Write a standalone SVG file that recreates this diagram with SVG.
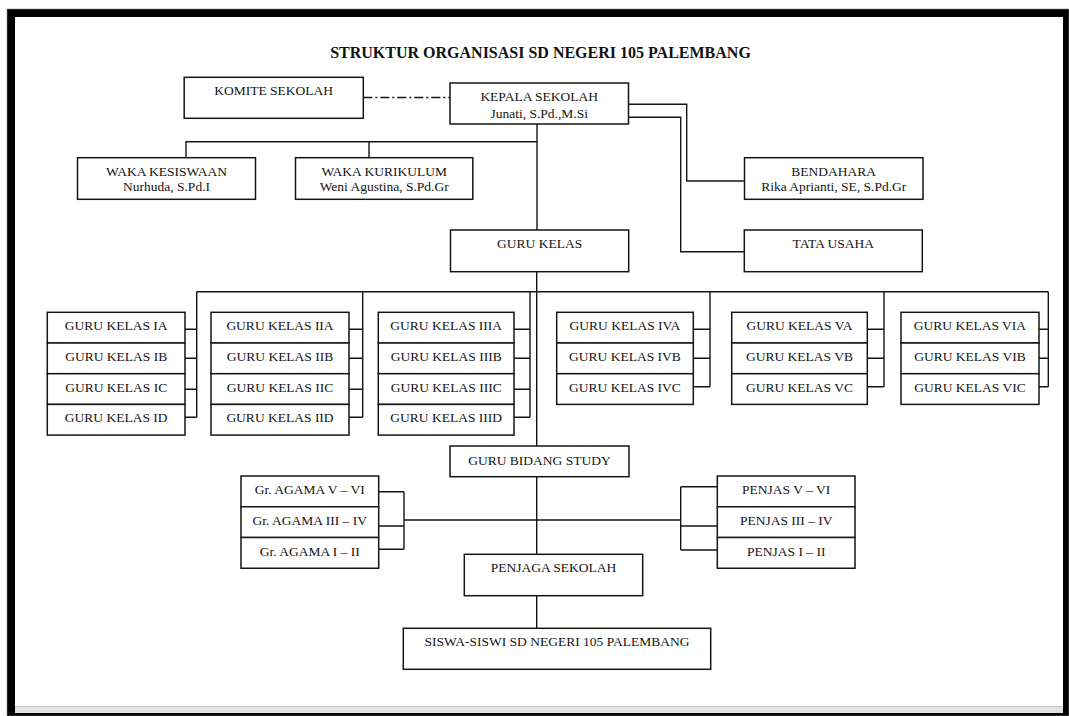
<svg xmlns="http://www.w3.org/2000/svg" width="1069" height="716" viewBox="0 0 1069 716">
<style>
.bx{fill:#fff;stroke:#151515;stroke-width:1.5}
.ln{fill:none;stroke:#151515;stroke-width:1.4}
.t{font-family:"Liberation Serif","Times New Roman",serif;font-size:13.5px;fill:#141414;text-anchor:middle}
.ttl{font-family:"Liberation Serif","Times New Roman",serif;font-size:16px;font-weight:bold;fill:#111;text-anchor:middle}
</style>
<rect x="0" y="0" width="1069" height="716" fill="#fff"/>
<rect x="7" y="9" width="1062" height="707" fill="#000" stroke="#888" stroke-width="0.6"/>
<rect x="15" y="17" width="1048" height="689" fill="#fff"/>
<rect x="15" y="706" width="1048" height="7" fill="#e2e2e2"/>
<line x1="15" y1="706.5" x2="1063" y2="706.5" stroke="#c8c8c8" stroke-width="1"/>

<text class="ttl" x="540.5" y="58.3">STRUKTUR ORGANISASI SD NEGERI 105 PALEMBANG</text>

<g id="connectors">
  <line class="ln" x1="363.3" y1="97.5" x2="450" y2="97.5" stroke-dasharray="9,3,2,3"/>
  <path class="ln" d="M537,124 V230"/>
  <path class="ln" d="M186,158 V141.7 H537"/>
  <path class="ln" d="M369,141.7 V158"/>
  <path class="ln" d="M628.5,104.3 H686.7 V181 H744.5"/>
  <path class="ln" d="M628.5,117.3 H680.7 V251.7 H744.3"/>
  <path class="ln" d="M536.7,272 V446"/>
  <path class="ln" d="M196.7,291.7 H1048.3"/>
  <path class="ln" d="M196.7,291.7 V417.3 M185,329.3 H196.7 M185,358.3 H196.7 M185,389.3 H196.7 M185,417.3 H196.7"/>
  <path class="ln" d="M362.7,291.7 V417.3 M349,329.3 H362.7 M349,358.3 H362.7 M349,389.3 H362.7 M349,417.3 H362.7"/>
  <path class="ln" d="M530,291.7 V417.3 M514,329.3 H530 M514,358.3 H530 M514,389.3 H530 M514,417.3 H530"/>
  <path class="ln" d="M710,291.7 V386.7 M693.3,329.3 H710 M693.3,358.3 H710 M693.3,386.7 H710"/>
  <path class="ln" d="M884,291.7 V386.7 M867.3,329.3 H884 M867.3,358.3 H884 M867.3,386.7 H884"/>
  <path class="ln" d="M1048.3,291.7 V386.7 M1039,329.3 H1048.3 M1039,358.3 H1048.3 M1039,386.7 H1048.3"/>
  <path class="ln" d="M536.7,476.7 V554.3"/>
  <path class="ln" d="M404,520 H680.7"/>
  <path class="ln" d="M404,491.7 V549.3 M378.7,491.7 H404 M378.7,526 H404 M378.7,549.3 H404"/>
  <path class="ln" d="M680.7,486.7 V550 M680.7,486.7 H717.3 M680.7,526 H717.3 M680.7,550 H717.3"/>
  <path class="ln" d="M536.7,595.7 V628.3"/>
</g>

<g id="komite"><rect class="bx" x="184.2" y="77.3" width="179.1" height="41"/><text class="t" x="273.7" y="95">KOMITE SEKOLAH</text></g>
<g id="kepala"><rect class="bx" x="450" y="83" width="178.5" height="41"/><text class="t" x="539.2" y="101">KEPALA SEKOLAH</text><text class="t" x="539.2" y="117.7">Junati, S.Pd.,M.Si</text></g>
<g id="waka-kesiswaan"><rect class="bx" x="77.5" y="157.7" width="178" height="41.6"/><text class="t" x="166.5" y="175.7">WAKA KESISWAAN</text><text class="t" x="166.5" y="191">Nurhuda, S.Pd.I</text></g>
<g id="waka-kurikulum"><rect class="bx" x="295.5" y="157.7" width="177.3" height="41.6"/><text class="t" x="384.2" y="175.7">WAKA KURIKULUM</text><text class="t" x="384.2" y="191">Weni Agustina, S.Pd.Gr</text></g>
<g id="bendahara"><rect class="bx" x="744.5" y="157.7" width="178.5" height="41.6"/><text class="t" x="833.7" y="175.7">BENDAHARA</text><text class="t" x="833.7" y="191">Rika Aprianti, SE, S.Pd.Gr</text></g>
<g id="guru-kelas"><rect class="bx" x="450.5" y="230" width="178.2" height="41.7"/><text class="t" x="539.6" y="248.3">GURU KELAS</text></g>
<g id="tata-usaha"><rect class="bx" x="744.3" y="230" width="178" height="41.7"/><text class="t" x="833.3" y="248.3">TATA USAHA</text></g>

<g id="kelas-1">
  <g id="kelas-1a"><rect class="bx" x="47.3" y="312.3" width="137.7" height="30.7"/><text class="t" x="116.2" y="330.3">GURU KELAS IA</text></g>
  <g id="kelas-1b"><rect class="bx" x="47.3" y="343" width="137.7" height="30.7"/><text class="t" x="116.2" y="361">GURU KELAS IB</text></g>
  <g id="kelas-1c"><rect class="bx" x="47.3" y="373.7" width="137.7" height="30.7"/><text class="t" x="116.2" y="391.7">GURU KELAS IC</text></g>
  <g id="kelas-1d"><rect class="bx" x="47.3" y="404.4" width="137.7" height="30.7"/><text class="t" x="116.2" y="422.4">GURU KELAS ID</text></g>
</g>
<g id="kelas-2">
  <g id="kelas-2a"><rect class="bx" x="211" y="312.3" width="138" height="30.7"/><text class="t" x="280" y="330.3">GURU KELAS IIA</text></g>
  <g id="kelas-2b"><rect class="bx" x="211" y="343" width="138" height="30.7"/><text class="t" x="280" y="361">GURU KELAS IIB</text></g>
  <g id="kelas-2c"><rect class="bx" x="211" y="373.7" width="138" height="30.7"/><text class="t" x="280" y="391.7">GURU KELAS IIC</text></g>
  <g id="kelas-2d"><rect class="bx" x="211" y="404.4" width="138" height="30.7"/><text class="t" x="280" y="422.4">GURU KELAS IID</text></g>
</g>
<g id="kelas-3">
  <g id="kelas-3a"><rect class="bx" x="378.3" y="312.3" width="135.7" height="30.7"/><text class="t" x="446.2" y="330.3">GURU KELAS IIIA</text></g>
  <g id="kelas-3b"><rect class="bx" x="378.3" y="343" width="135.7" height="30.7"/><text class="t" x="446.2" y="361">GURU KELAS IIIB</text></g>
  <g id="kelas-3c"><rect class="bx" x="378.3" y="373.7" width="135.7" height="30.7"/><text class="t" x="446.2" y="391.7">GURU KELAS IIIC</text></g>
  <g id="kelas-3d"><rect class="bx" x="378.3" y="404.4" width="135.7" height="30.7"/><text class="t" x="446.2" y="422.4">GURU KELAS IIID</text></g>
</g>
<g id="kelas-4">
  <g id="kelas-4a"><rect class="bx" x="556.7" y="312.3" width="136.6" height="30.7"/><text class="t" x="625" y="330.3">GURU KELAS IVA</text></g>
  <g id="kelas-4b"><rect class="bx" x="556.7" y="343" width="136.6" height="30.7"/><text class="t" x="625" y="361">GURU KELAS IVB</text></g>
  <g id="kelas-4c"><rect class="bx" x="556.7" y="373.7" width="136.6" height="30.7"/><text class="t" x="625" y="391.7">GURU KELAS IVC</text></g>
</g>
<g id="kelas-5">
  <g id="kelas-5a"><rect class="bx" x="731.7" y="312.3" width="135.6" height="30.7"/><text class="t" x="799.5" y="330.3">GURU KELAS VA</text></g>
  <g id="kelas-5b"><rect class="bx" x="731.7" y="343" width="135.6" height="30.7"/><text class="t" x="799.5" y="361">GURU KELAS VB</text></g>
  <g id="kelas-5c"><rect class="bx" x="731.7" y="373.7" width="135.6" height="30.7"/><text class="t" x="799.5" y="391.7">GURU KELAS VC</text></g>
</g>
<g id="kelas-6">
  <g id="kelas-6a"><rect class="bx" x="901" y="312.3" width="138" height="30.7"/><text class="t" x="970" y="330.3">GURU KELAS VIA</text></g>
  <g id="kelas-6b"><rect class="bx" x="901" y="343" width="138" height="30.7"/><text class="t" x="970" y="361">GURU KELAS VIB</text></g>
  <g id="kelas-6c"><rect class="bx" x="901" y="373.7" width="138" height="30.7"/><text class="t" x="970" y="391.7">GURU KELAS VIC</text></g>
</g>

<g id="guru-bidang-study"><rect class="bx" x="450" y="446" width="179" height="30.7"/><text class="t" x="539.5" y="464.7">GURU BIDANG STUDY</text></g>

<g id="agama">
  <g id="agama-56"><rect class="bx" x="241" y="476" width="137.7" height="30.75"/><text class="t" x="309.8" y="494.3">Gr. AGAMA V – VI</text></g>
  <g id="agama-34"><rect class="bx" x="241" y="506.75" width="137.7" height="30.75"/><text class="t" x="309.8" y="525">Gr. AGAMA III – IV</text></g>
  <g id="agama-12"><rect class="bx" x="241" y="537.5" width="137.7" height="30.75"/><text class="t" x="309.8" y="555.8">Gr. AGAMA I – II</text></g>
</g>
<g id="penjas">
  <g id="penjas-56"><rect class="bx" x="717.3" y="476" width="137.7" height="30.75"/><text class="t" x="786.2" y="494.3">PENJAS V – VI</text></g>
  <g id="penjas-34"><rect class="bx" x="717.3" y="506.75" width="137.7" height="30.75"/><text class="t" x="786.2" y="525">PENJAS III – IV</text></g>
  <g id="penjas-12"><rect class="bx" x="717.3" y="537.5" width="137.7" height="30.75"/><text class="t" x="786.2" y="555.8">PENJAS I – II</text></g>
</g>

<g id="penjaga-sekolah"><rect class="bx" x="464.3" y="554.3" width="178.4" height="41.4"/><text class="t" x="553.5" y="571.7">PENJAGA SEKOLAH</text></g>
<g id="siswa"><rect class="bx" x="403.3" y="628.3" width="307.4" height="41"/><text class="t" x="557" y="645.5">SISWA-SISWI SD NEGERI 105 PALEMBANG</text></g>
</svg>
